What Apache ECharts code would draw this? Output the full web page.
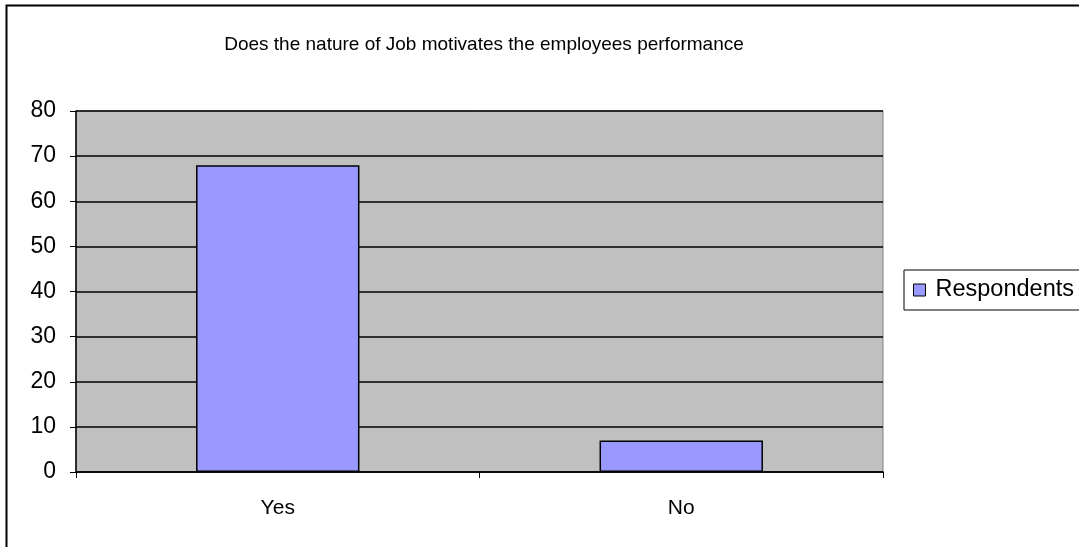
<!DOCTYPE html>
<html>
<head>
<meta charset="utf-8">
<script src="https://cdn.jsdelivr.net/npm/echarts@6/dist/echarts.min.js"></script>
<style>
  html, body { margin: 0; padding: 0; background: #fff; }
  #chart { width: 1079px; height: 547px; }
</style>
</head>
<body>
<div id="chart"></div>
<script>
// Survey answers and respondent counts
const categories = ['Yes', 'No'];
const respondents = [68, 7];
const seriesName = 'Respondents';
const chartTitle = 'Does the nature of Job motivates the employees performance';

const FONT = '"Liberation Sans", Arial, sans-serif';

const chart = echarts.init(document.getElementById('chart'), null, { renderer: 'canvas' });

chart.setOption({
  backgroundColor: '#ffffff',
  animation: false,
  textStyle: { fontFamily: FONT, color: '#000' },
  title: {
    text: chartTitle,
    left: 479, textAlign: 'center',
    top: 30,
    textStyle: { fontFamily: FONT, fontSize: 19, fontWeight: 'normal', color: '#000' }
  },
  // outer frame of the chart
  graphic: [{
    type: 'rect',
    shape: { x: 6.5, y: 5.5, width: 1100, height: 600 },
    style: { fill: 'none', stroke: '#000', lineWidth: 2 },
    silent: true, z: 100
  }],
  legend: {
    data: [seriesName],
    left: 904, top: 270,
    orient: 'vertical',
    icon: 'rect',
    itemWidth: 12, itemHeight: 12,
    padding: [8, 40, 8, 9],
    borderColor: '#000', borderWidth: 1,
    backgroundColor: '#fff',
    textStyle: { fontFamily: FONT, fontSize: 23.5, color: '#000', padding: [0, 0, 0, 5] },
    itemStyle: { borderColor: '#000', borderWidth: 1 }
  },
  grid: {
    left: 76, top: 111, right: 196, bottom: 75,
    show: true,
    backgroundColor: '#C0C0C0',
    borderColor: '#808080', borderWidth: 1
  },
  xAxis: {
    type: 'category',
    data: categories,
    boundaryGap: true,
    axisLine: { show: true, lineStyle: { color: '#000', width: 1.5 } },
    axisTick: { show: true, alignWithLabel: false, length: 6, lineStyle: { color: '#000', width: 1 } },
    axisLabel: { fontFamily: FONT, fontSize: 21, color: '#000', margin: 26 }
  },
  yAxis: {
    type: 'value',
    min: 0, max: 80, interval: 10,
    axisLine: { show: true, lineStyle: { color: '#000', width: 1.5 } },
    axisTick: { show: true, length: 6, lineStyle: { color: '#000', width: 1 } },
    axisLabel: { fontFamily: FONT, fontSize: 23, color: '#000', margin: 20 },
    splitLine: { show: true, lineStyle: { color: '#000', width: 1.5 } }
  },
  series: [{
    name: seriesName,
    type: 'bar',
    data: respondents,
    barWidth: '40.5%',
    itemStyle: { color: '#9999FF', borderColor: '#000', borderWidth: 1.5 }
  }]
});
</script>
</body>
</html>
